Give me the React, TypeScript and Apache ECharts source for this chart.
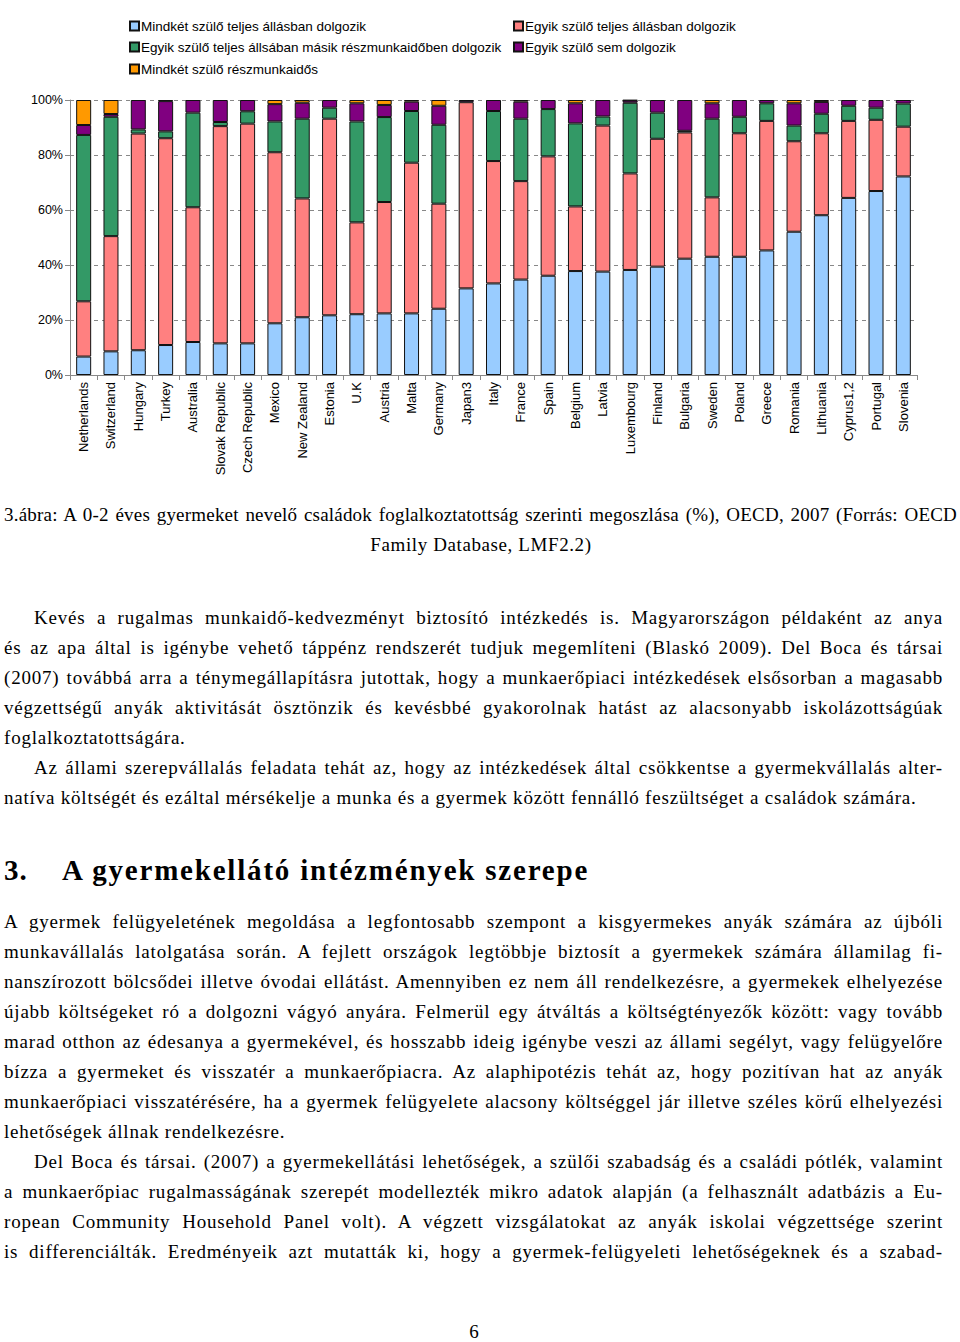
import React, { useEffect, useRef } from "react";
import * as echarts from "echarts";

const countries = [
  "Netherlands", "Switzerland", "Hungary", "Turkey", "Australia", "Slovak Republic",
  "Czech Republic", "Mexico", "New Zealand", "Estonia", "U.K", "Austria", "Malta",
  "Germany", "Japan3", "Italy", "France", "Spain", "Belgium", "Latvia", "Luxembourg",
  "Finland", "Bulgaria", "Sweden", "Poland", "Greece", "Romania", "Lithuania",
  "Cyprus1,2", "Portugal", "Slovenia",
];

const seriesNames = [
  "Mindkét szülő teljes állásban dolgozik",
  "Egyik szülő teljes állásban dolgozik",
  "Egyik szülő teljes állsában másik részmunkaidőben dolgozik",
  "Egyik szülő sem dolgozik",
  "Mindkét szülő részmunkaidős",
];

const bothFull = [6.7, 8.6, 9.0, 10.9, 12.0, 11.5, 11.5, 18.8, 21.0, 21.7, 22.1, 22.4, 22.4, 24.1, 31.5, 33.3, 34.7, 36.1, 37.8, 37.6, 38.2, 39.4, 42.3, 43.0, 43.0, 45.3, 52.1, 58.1, 64.4, 66.9, 72.2];
const oneFull = [20.1, 41.9, 78.8, 75.2, 49.0, 79.0, 79.9, 62.2, 43.2, 71.5, 33.4, 40.5, 54.8, 38.2, 67.7, 44.5, 35.8, 43.4, 23.5, 53.1, 35.1, 46.5, 45.9, 21.6, 44.9, 47.1, 32.9, 29.8, 28.0, 25.9, 18.1];
const fullPart = [60.5, 43.4, 1.5, 2.5, 34.4, 1.5, 4.5, 11.2, 29.0, 4.0, 36.7, 30.9, 18.8, 28.7, 0, 18.2, 22.7, 17.2, 30.2, 3.3, 25.7, 9.5, 0.6, 28.6, 6.0, 6.4, 5.7, 7.1, 5.5, 4.4, 8.4];
const noneWork = [3.6, 1.0, 10.7, 11.0, 4.6, 8.0, 4.1, 6.3, 5.8, 2.8, 6.6, 4.4, 3.4, 6.9, 0.8, 4.0, 6.2, 3.3, 7.3, 6.0, 0.8, 4.6, 11.2, 5.6, 6.1, 1.2, 8.1, 4.3, 2.1, 2.8, 1.3];
const bothPart = [9.1, 5.1, 0, 0.4, 0, 0, 0, 1.5, 1.0, 0, 1.2, 1.8, 0.6, 2.1, 0, 0, 0.6, 0, 1.2, 0, 0.2, 0, 0, 1.2, 0, 0, 1.2, 0.7, 0, 0, 0];

const seriesData = [bothFull, oneFull, fullPart, noneWork, bothPart];
const seriesColors = ["#99CCFF", "#FF8080", "#339966", "#800080", "#FF9900"];

const yMin = 0;
const yMax = 100;
const yInterval = 20;

const captionLines = [
  "3.ábra: A 0-2 éves gyermeket nevelő családok foglalkoztatottság szerinti megoszlása (%), OECD, 2007 (Forrás: OECD",
  "Family Database, LMF2.2)",
];

type Line = { text: string; y: number; indent?: boolean; last?: boolean };

const bodyLines: Line[] = [
  { text: "Kevés a rugalmas munkaidő-kedvezményt biztosító intézkedés is. Magyarországon példaként az anya", y: 618, indent: true },
  { text: "és az apa által is igénybe vehető táppénz rendszerét tudjuk megemlíteni (Blaskó 2009). Del Boca és társai", y: 648 },
  { text: "(2007) továbbá arra a ténymegállapításra jutottak, hogy a munkaerőpiaci intézkedések elsősorban a magasabb", y: 678 },
  { text: "végzettségű anyák aktivitását ösztönzik és kevésbbé gyakorolnak hatást az alacsonyabb iskolázottságúak", y: 708 },
  { text: "foglalkoztatottságára.", y: 738, last: true },
  { text: "Az állami szerepvállalás feladata tehát az, hogy az intézkedések által csökkentse a gyermekvállalás alter-", y: 768, indent: true },
  { text: "natíva költségét és ezáltal mérsékelje a munka és a gyermek között fennálló feszültséget a családok számára.", y: 798, last: true },
  { text: "A gyermek felügyeletének megoldása a legfontosabb szempont a kisgyermekes anyák számára az újbóli", y: 922 },
  { text: "munkavállalás latolgatása során. A fejlett országok legtöbbje biztosít a gyermekek számára államilag fi-", y: 952 },
  { text: "nanszírozott bölcsődei illetve óvodai ellátást. Amennyiben ez nem áll rendelkezésre, a gyermekek elhelyezése", y: 982 },
  { text: "újabb költségeket ró a dolgozni vágyó anyára. Felmerül egy átváltás a költségtényezők között: vagy tovább", y: 1012 },
  { text: "marad otthon az édesanya a gyermekével, és hosszabb ideig igénybe veszi az állami segélyt, vagy felügyelőre", y: 1042 },
  { text: "bízza a gyermeket és visszatér a munkaerőpiacra. Az alaphipotézis tehát az, hogy pozitívan hat az anyák", y: 1072 },
  { text: "munkaerőpiaci visszatérésére, ha a gyermek felügyelete alacsony költséggel jár illetve széles körű elhelyezési", y: 1102 },
  { text: "lehetőségek állnak rendelkezésre.", y: 1132, last: true },
  { text: "Del Boca és társai. (2007) a gyermekellátási lehetőségek, a szülői szabadság és a családi pótlék, valamint", y: 1162, indent: true },
  { text: "a munkaerőpiac rugalmasságának szerepét modellezték mikro adatok alapján (a felhasznált adatbázis a Eu-", y: 1192 },
  { text: "ropean Community Household Panel volt). A végzett vizsgálatokat az anyák iskolai végzettsége szerint", y: 1222 },
  { text: "is differenciálták. Eredményeik azt mutatták ki, hogy a gyermek-felügyeleti lehetőségeknek és a szabad-", y: 1252 },
];

const headingNumber = "3.";
const headingText = "A gyermekellátó intézmények szerepe";
const pageNumber = "6";

const sans = "'Liberation Sans', Arial, sans-serif";
const serif = "'Liberation Serif', 'Times New Roman', serif";

function Chart() {
  const ref = useRef<HTMLDivElement>(null);
  useEffect(() => {
    if (!ref.current) return;
    const chart = echarts.init(ref.current, null, { renderer: "svg" });
    const legendPos = [
      { left: 129, top: 19 },
      { left: 513, top: 19 },
      { left: 129, top: 40 },
      { left: 513, top: 40 },
      { left: 129, top: 62 },
    ];
    chart.setOption({
      animation: false,
      backgroundColor: "#ffffff",
      legend: seriesNames.map((n, i) => ({
        data: [n],
        left: legendPos[i].left,
        top: legendPos[i].top,
        padding: 0,
        icon: "rect",
        itemWidth: 9,
        itemHeight: 9,
        selectedMode: false,
        textStyle: { fontFamily: sans, fontSize: 13.5, color: "#000", padding: [0, 0, 0, -3] },
      })),
      grid: { left: 70, right: 43, top: 100, bottom: 115 },
      xAxis: {
        type: "category",
        data: countries,
        axisLine: { lineStyle: { color: "#888888" } },
        axisTick: { show: true, alignWithLabel: false, length: 5, lineStyle: { color: "#888888" } },
        axisLabel: { rotate: 90, interval: 0, margin: 7, fontFamily: sans, fontSize: 13, color: "#000" },
      },
      yAxis: {
        type: "value",
        min: yMin,
        max: yMax,
        interval: yInterval,
        axisLine: { show: true, lineStyle: { color: "#888888" } },
        axisTick: { show: true, length: 5, lineStyle: { color: "#888888" } },
        axisLabel: { formatter: "{value}%", margin: 7, fontFamily: sans, fontSize: 12.5, color: "#000" },
        splitLine: { show: true, lineStyle: { color: "#888888", type: [4, 4] } },
      },
      series: seriesNames.map((n, i) => ({
        name: n,
        type: "bar",
        stack: "total",
        barWidth: 15,
        data: seriesData[i].map((v) => (v === 0 ? null : v)),
        itemStyle: { color: seriesColors[i], borderColor: "#111111", borderWidth: 1 },
      })),
    });
    return () => chart.dispose();
  }, []);
  return <div ref={ref} style={{ position: "absolute", left: 0, top: 0, width: 960, height: 490 }} />;
}

const textBase: React.CSSProperties = {
  position: "absolute",
  height: 30,
  lineHeight: "30px",
  fontFamily: serif,
  fontSize: 19,
  letterSpacing: "0.8px",
  color: "#000",
  whiteSpace: "nowrap",
};

export default function App() {
  useEffect(() => {
    document.body.style.margin = "0";
  }, []);
  const lineStyle = (l: Line): React.CSSProperties => ({
    ...textBase,
    left: l.indent ? 34 : 4,
    width: l.indent ? 909 : 939,
    top: l.y - 15,
    textAlign: "justify",
    textAlignLast: l.last ? "left" : "justify",
  });
  return (
    <div style={{ position: "relative", width: 960, height: 1342, background: "#fff", overflow: "hidden" }}>
      <Chart />
      <div style={{ ...textBase, left: 4, width: 953, top: 500, letterSpacing: "0.2px", textAlign: "justify", textAlignLast: "justify" }}>
        {captionLines[0]}
      </div>
      <div style={{ ...textBase, left: 0, width: 962, top: 530, letterSpacing: "0.6px", textAlign: "center" }}>
        {captionLines[1]}
      </div>
      {bodyLines.map((l, i) => (
        <div key={i} style={lineStyle(l)}>{l.text}</div>
      ))}
      <div style={{ ...textBase, left: 4, top: 852, height: 36, lineHeight: "36px", fontSize: 29, fontWeight: "bold", letterSpacing: "1px" }}>
        {headingNumber}
      </div>
      <div style={{ ...textBase, left: 62, top: 852, height: 36, lineHeight: "36px", fontSize: 29, fontWeight: "bold", letterSpacing: "1.8px" }}>
        {headingText}
      </div>
      <div style={{ ...textBase, left: 464, width: 20, top: 1317, textAlign: "center", letterSpacing: "0px" }}>
        {pageNumber}
      </div>
    </div>
  );
}
